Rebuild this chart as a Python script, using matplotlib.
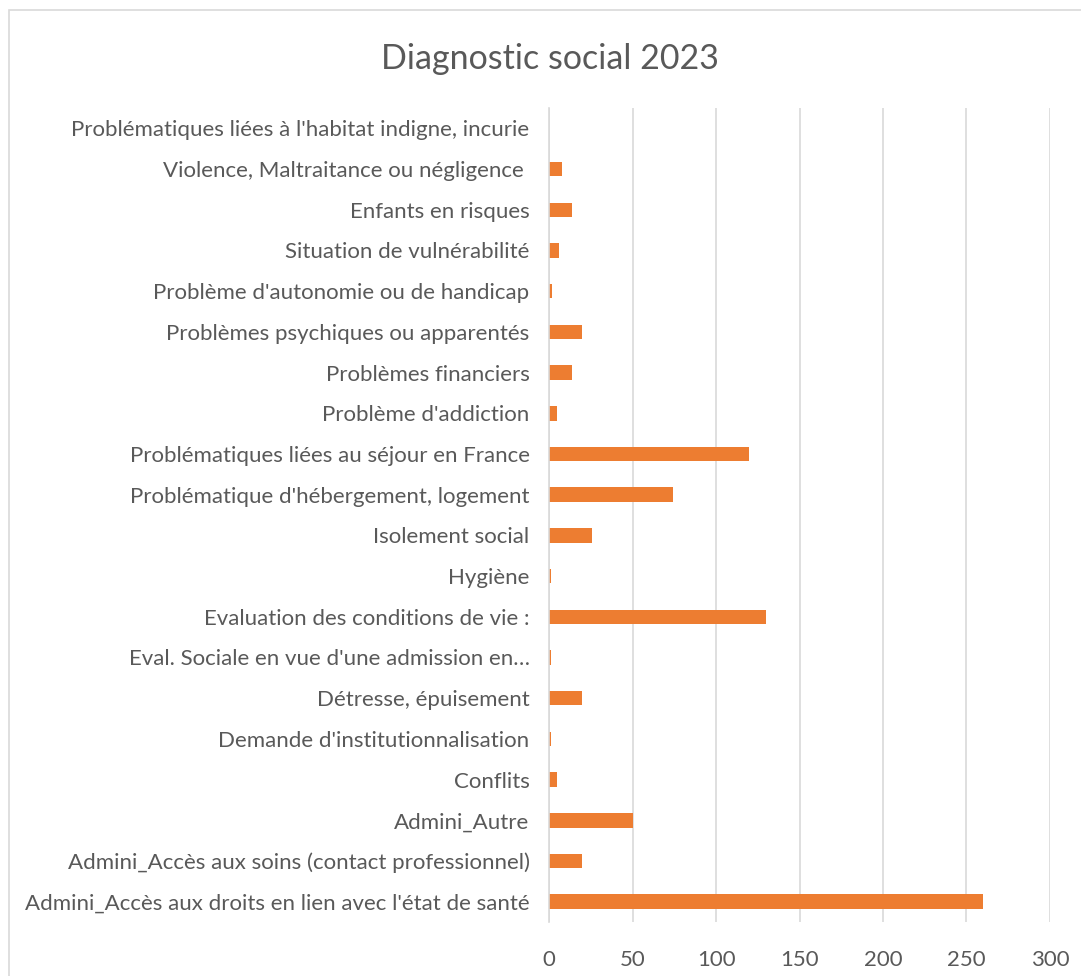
import matplotlib.pyplot as plt
from matplotlib.patches import Rectangle

plt.rcParams['font.family'] = ['Lato', 'DejaVu Sans']

categories = [
    "Problématiques liées à l'habitat indigne, incurie",
    "Violence, Maltraitance ou négligence ",
    "Enfants en risques",
    "Situation de vulnérabilité",
    "Problème d'autonomie ou de handicap",
    "Problèmes psychiques ou apparentés",
    "Problèmes financiers",
    "Problème d'addiction",
    "Problématiques liées au séjour en France",
    "Problématique d'hébergement, logement",
    "Isolement social",
    "Hygiène",
    "Evaluation des conditions de vie :",
    "Eval. Sociale en vue d'une admission en…",
    "Détresse, épuisement",
    "Demande d'institutionnalisation",
    "Conflits",
    "Admini_Autre",
    "Admini_Accès aux soins (contact professionnel)",
    "Admini_Accès aux droits en lien avec l'état de santé",
]
values = [0, 8, 14, 6, 2, 20, 14, 5, 120, 74, 26, 1, 130, 1, 20, 1, 5, 50, 20, 260]
xticks = [0, 50, 100, 150, 200, 250, 300]

grey_txt = '#595959'
orange = '#ED7D31'

fig = plt.figure(figsize=(10.81, 9.76), dpi=100)
fig.patches.append(Rectangle((0.008, -0.01), 1.5, 1.0, transform=fig.transFigure,
                             fill=False, edgecolor='#d9d9d9', linewidth=1.2))
ax = fig.add_axes([0.5079, 0.0553, 0.4634, 0.834])

pos = list(range(len(categories)))[::-1]
ax.barh(pos, values, height=0.355, color=orange)
ax.set_ylim(-0.5, len(categories) - 0.5)
ax.set_xlim(0, 300)
ax.set_xticks(xticks)
ax.set_yticks(pos)
ax.set_yticklabels(categories)
ax.tick_params(axis='y', length=0, pad=14, labelsize=16, labelcolor=grey_txt)
ax.tick_params(axis='x', length=0, pad=20, labelsize=16, labelcolor=grey_txt)
ax.xaxis.grid(True, color='#d9d9d9', linewidth=1.2)
ax.set_axisbelow(True)
for s in ['top', 'right', 'bottom']:
    ax.spines[s].set_visible(False)
ax.spines['left'].set_color('#d9d9d9')
ax.spines['left'].set_linewidth(1.2)

fig.text(0.509, 0.94, "Diagnostic social 2023", ha='center', va='center',
         fontsize=24.5, color=grey_txt)

plt.savefig("out.png", dpi=100)
